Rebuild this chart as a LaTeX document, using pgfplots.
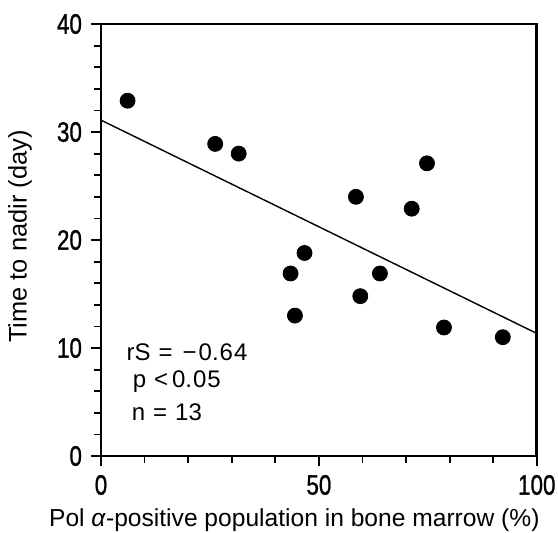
\documentclass[border=0pt]{standalone}
\usepackage{fontspec}
\setmainfont{Liberation Sans}
\newfontfamily\tickfont[FakeBold=1.2]{Liberation Sans}
\usepackage{pgfplots}
\pgfplotsset{compat=1.18}
\begin{document}
\begin{tikzpicture}
\begin{axis}[
  scale only axis,
  width=217.9pt, height=216pt,
  xmin=0, xmax=100, ymin=0, ymax=40,
  xtick={0,50,100}, ytick={0,10,20,30,40},
  minor x tick num=4, minor y tick num=4,
  tick align=outside,
  major tick length=5pt, minor tick length=3.3pt,
  axis line style={line width=1.3pt},
  every tick/.style={line width=0.9pt, black},
  xtick pos=bottom, ytick pos=left,
  /pgf/number format/assume math mode=true,
  xticklabel={\scalebox{0.8}[1]{\pgfmathprintnumber{\tick}}},
  yticklabel={\scalebox{0.8}[1]{\pgfmathprintnumber{\tick}}},
  tick label style={font=\tickfont\fontsize{14}{14}\selectfont},
  yticklabel style={xshift=-1pt},
  xticklabel style={yshift=-1pt},
  clip=false,
]
\addplot[only marks, mark=*, mark size=3.75pt, black] coordinates {
  (6.1,32.9) (26.2,28.9) (31.6,28.0) (74.8,27.1) (58.5,24.0)
  (71.3,22.9) (46.7,18.8) (43.5,16.9) (64.0,16.9) (59.5,14.8)
  (44.5,13.0) (78.7,11.9) (92.2,11.0)
};
\addplot[black, line width=0.7pt] coordinates {(0,31.1) (100,11.35)};
\node[anchor=west, inner sep=0pt, font=\fontsize{12}{12}\selectfont] at (axis cs:5.8,9.6) {rS\hspace{4pt}=\hspace{5pt}−\hspace{1pt}0.\hspace{0.5pt}6\hspace{0.5pt}4};
\node[anchor=west, inner sep=0pt, font=\fontsize{12}{12}\selectfont] at (axis cs:7.2,6.85) {p\hspace{4pt}<\hspace{2pt}0.\hspace{0.5pt}0\hspace{0.5pt}5};
\node[anchor=west, inner sep=0pt, font=\fontsize{12}{12}\selectfont] at (axis cs:7.0,4.05) {n\hspace{4pt}=\hspace{4pt}13};
\node[anchor=center, rotate=90, font=\fontsize{12.7}{12.7}\selectfont] at (axis description cs:-0.186,0.508) {Time to nadir (day)};
\node[anchor=base west, inner sep=0pt, font=\fontsize{12.3}{12.3}\selectfont] at (axis description cs:-0.12,-0.164) {Pol \textit{α}-positive population in bone marrow\ (\%)};
\end{axis}
\pgfresetboundingbox
\path[use as bounding box] (-50.5pt,-38pt) rectangle (228.5pt,228pt);
\end{tikzpicture}
\end{document}
